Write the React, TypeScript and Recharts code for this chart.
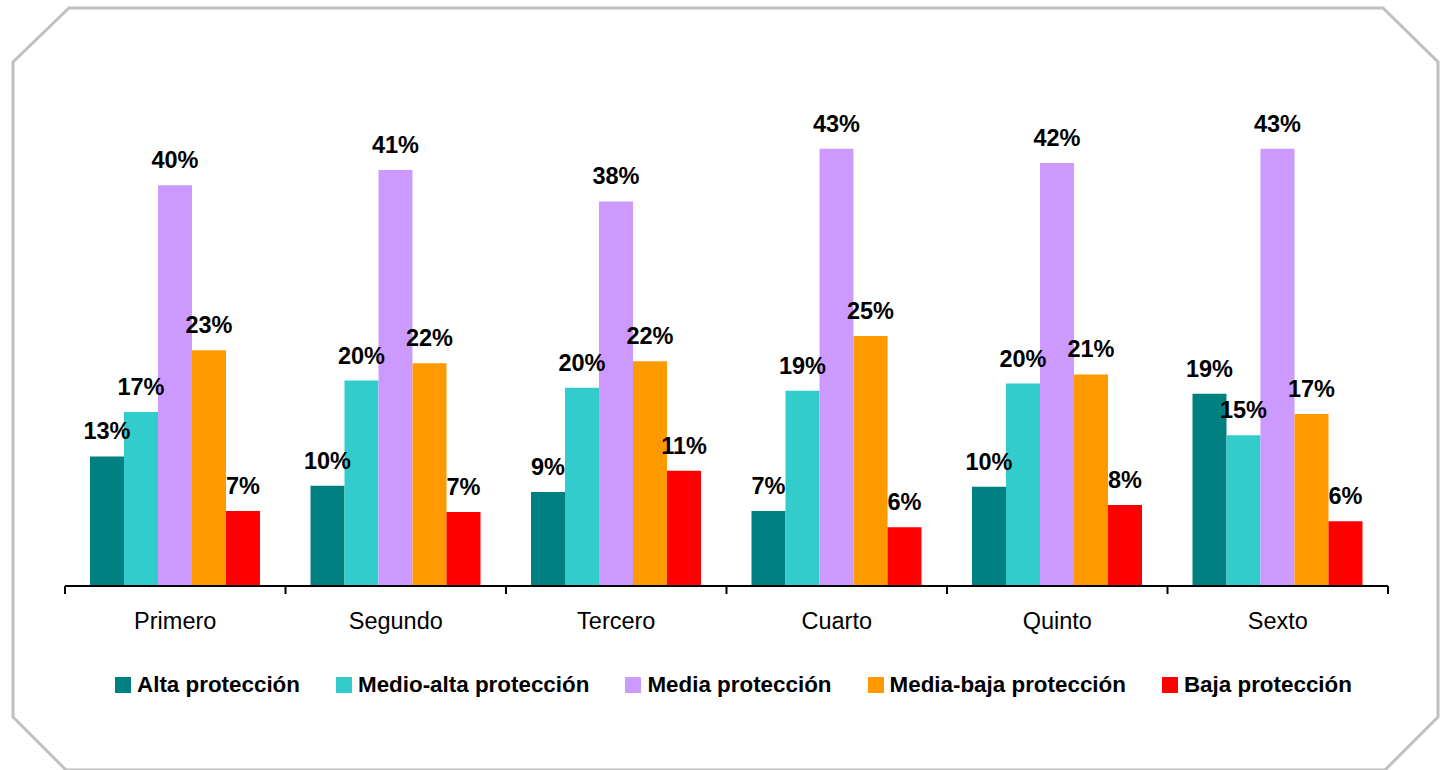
import { Bar, BarChart, LabelList, Legend, XAxis, YAxis } from "recharts";

const categories = ["Primero", "Segundo", "Tercero", "Cuarto", "Quinto", "Sexto"];

const alta = [12.8, 9.9, 9.3, 7.4, 9.8, 19.0];
const medioAlta = [17.2, 20.3, 19.6, 19.3, 20.0, 14.9];
const media = [39.6, 41.1, 38.0, 43.2, 41.8, 43.2];
const mediaBaja = [23.3, 22.0, 22.2, 24.7, 20.9, 17.0];
const baja = [7.4, 7.3, 11.4, 5.8, 8.0, 6.4];

const SERIES = [
  { key: "alta", name: "Alta protección", color: "#008080", values: alta },
  { key: "medioAlta", name: "Medio-alta protección", color: "#33CCCC", values: medioAlta },
  { key: "media", name: "Media protección", color: "#CC99FF", values: media },
  { key: "mediaBaja", name: "Media-baja protección", color: "#FF9900", values: mediaBaja },
  { key: "baja", name: "Baja protección", color: "#FF0000", values: baja },
];

const FONT = "'Liberation Sans', Arial, Helvetica, sans-serif";

const chartData = categories.map((c, i) => {
  const row: Record<string, string | number> = { name: c };
  SERIES.forEach((s) => {
    row[s.key] = s.values[i];
  });
  return row;
});

// tick: category label plus a boundary mark on the left (and right for the last one)
function CategoryTick(props: any) {
  const { x, y, payload, index, visibleTicksCount } = props;
  const half = payload?.offset || 110.25;
  const last = index === (visibleTicksCount ?? categories.length) - 1;
  return (
    <g>
      <line x1={x - half} y1={y - 8} x2={x - half} y2={y} stroke="#000" strokeWidth={2} />
      {last && (
        <line x1={x + half} y1={y - 8} x2={x + half} y2={y} stroke="#000" strokeWidth={2} />
      )}
      <text x={x} y={y + 35} textAnchor="middle" fontFamily={FONT} fontSize={23.5} fill="#000">
        {payload.value}
      </text>
    </g>
  );
}

function LegendContent() {
  return (
    <div
      style={{
        display: "flex",
        alignItems: "center",
        paddingLeft: 115,
        fontFamily: FONT,
        fontWeight: 700,
        fontSize: 22.4,
        color: "#000",
        whiteSpace: "nowrap",
      }}
    >
      {SERIES.map((s) => (
        <div key={s.key} style={{ display: "flex", alignItems: "center", marginRight: 36 }}>
          <span
            style={{
              display: "inline-block",
              width: 16,
              height: 16,
              background: s.color,
              marginRight: 6,
            }}
          />
          <span>{s.name}</span>
        </div>
      ))}
    </div>
  );
}

export default function App() {
  return (
    <div
      style={{
        position: "absolute",
        left: 0,
        top: 0,
        width: 1441,
        height: 770,
        background: "#fff",
        overflow: "hidden",
      }}
    >
      <svg
        width={1441}
        height={770}
        style={{ position: "absolute", left: 0, top: 0 }}
      >
        <polygon
          points="13,62 69,8 1383,8 1438,62 1438,717 1385,770 66,770 13,717"
          fill="none"
          stroke="#C0C0C0"
          strokeWidth={3}
        />
      </svg>
      <div style={{ position: "absolute", left: 0, top: 0 }}>
        <BarChart
          width={1441}
          height={770}
          data={chartData}
          margin={{ top: 80, right: 53, bottom: 154, left: 65 }}
          barCategoryGap={25}
          barGap={0}
        >
          <YAxis hide domain={[0, 50]} />
          <XAxis
            dataKey="name"
            axisLine={{ stroke: "#000", strokeWidth: 2 }}
            tickLine={false}
            tick={<CategoryTick />}
            interval={0}
            height={30}
          />
          <Legend
            verticalAlign="middle"
            layout="horizontal"
            content={<LegendContent />}
            wrapperStyle={{ top: 672, left: 0, width: 1441, height: 28 }}
          />
          {SERIES.map((s) => (
            <Bar
              key={s.key}
              dataKey={s.key}
              name={s.name}
              fill={s.color}
              isAnimationActive={false}
            >
              <LabelList
                dataKey={s.key}
                position="top"
                offset={17}
                formatter={(v: any) => `${Math.round(Number(v))}%`}
                style={{
                  fontFamily: FONT,
                  fontWeight: 700,
                  fontSize: 23.5,
                  fill: "#000",
                }}
              />
            </Bar>
          ))}
        </BarChart>
      </div>
    </div>
  );
}
